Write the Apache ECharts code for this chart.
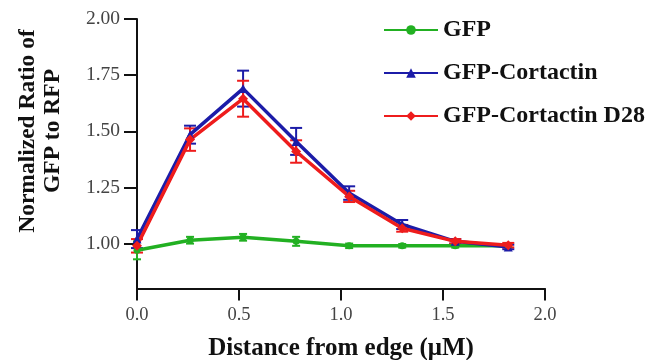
<!DOCTYPE html>
<html>
<head>
<meta charset="utf-8">
<script src="https://cdn.jsdelivr.net/npm/echarts@6/dist/echarts.min.js"></script>
<style>html,body{margin:0;padding:0;background:#fff}#c{width:657px;height:360px}</style>
</head>
<body>
<div id="c"></div>
<script>
var xs = [0, 0.26, 0.52, 0.78, 1.04, 1.30, 1.56, 1.82];
var gfp = [0.97, 1.015, 1.028, 1.01, 0.99, 0.99, 0.99, 0.99];
var gfpErr = [0.04, 0.015, 0.015, 0.02, 0.01, 0.008, 0.008, 0.008];
var cort = [1.02, 1.485, 1.69, 1.455, 1.225, 1.085, 1.01, 0.985];
var cortErr = [0.04, 0.04, 0.08, 0.06, 0.03, 0.02, 0.01, 0.01];
var d28 = [0.99, 1.463, 1.645, 1.41, 1.21, 1.068, 1.01, 0.993];
var d28Err = [0.03, 0.05, 0.08, 0.05, 0.025, 0.015, 0.01, 0.01];
var yTicks = [1.00, 1.25, 1.50, 1.75, 2.00];
var names = ['GFP', 'GFP-Cortactin', 'GFP-Cortactin D28'];
var colors = ['#22b022', '#1c1ca8', '#ee1c1c'];

function pts(v){ return xs.map(function(x,i){ return [x, v[i]]; }); }
function errData(v,e){ return xs.map(function(x,i){ return [x, v[i]-e[i], v[i]+e[i]]; }); }
function errSeries(v,e,color,cap){
  return {
    type:'custom', silent:true, z:3,
    data: errData(v,e),
    renderItem:function(params, api){
      var lo = api.coord([api.value(0), api.value(1)]);
      var hi = api.coord([api.value(0), api.value(2)]);
      var st = {stroke:color, lineWidth:2};
      return {type:'group', children:[
        {type:'line', shape:{x1:lo[0],y1:lo[1],x2:hi[0],y2:hi[1]}, style:st},
        {type:'line', shape:{x1:lo[0]-cap,y1:lo[1],x2:lo[0]+cap,y2:lo[1]}, style:st},
        {type:'line', shape:{x1:hi[0]-cap,y1:hi[1],x2:hi[0]+cap,y2:hi[1]}, style:st}
      ]};
    }
  };
}
function lineSeries(name, v, color, symbol, size){
  return {
    name:name, type:'line', data:pts(v), symbol:symbol, symbolSize:size,
    lineStyle:{color:color, width:3.5}, itemStyle:{color:color}, z:4
  };
}
var font = 'Liberation Serif';
var chart = echarts.init(document.getElementById('c'));
chart.setOption({
  animation:false,
  grid:{left:137, right:112, top:19, bottom:71.5, containLabel:false, outerBoundsMode:'none'},
  legend:{
    orient:'vertical', left:383, top:18, padding:0, itemWidth:54, itemHeight:12, itemGap:19,
    data:names,
    textStyle:{fontFamily:font, fontWeight:'bold', fontSize:24, lineHeight:24, color:'#111'}
  },
  xAxis:{
    type:'value', min:0, max:2, interval:0.5,
    name:'Distance from edge (\u03bcM)', nameLocation:'middle', nameGap:48,
    nameTextStyle:{fontFamily:font, fontWeight:'bold', fontSize:25, color:'#111'},
    axisLine:{lineStyle:{color:'#111', width:2}},
    axisTick:{length:12, lineStyle:{color:'#111', width:2}},
    axisLabel:{fontFamily:font, fontSize:18.5, color:'#444', margin:17, formatter:function(v){return v.toFixed(1);}},
    splitLine:{show:false}
  },
  yAxis:{
    type:'value', min:0.8, max:2.0,
    axisLine:{show:true, lineStyle:{color:'#111', width:2}},
    axisTick:{show:true, length:13, lineStyle:{color:'#111', width:2}, customValues:yTicks},
    axisLabel:{fontFamily:font, fontSize:19.5, color:'#444', margin:17, customValues:yTicks, formatter:function(v){return v.toFixed(2);}},
    splitLine:{show:false}
  },
  graphic:[{
    type:'text', x:40, y:131, rotation:Math.PI/2,
    style:{text:'Normalized Ratio of\nGFP to RFP', fontFamily:font, fontWeight:'bold', fontSize:23.5, fill:'#111', align:'center', verticalAlign:'middle', lineHeight:25}
  }],
  series:[
    errSeries(gfp, gfpErr, colors[0], 4),
    errSeries(cort, cortErr, colors[1], 6),
    errSeries(d28, d28Err, colors[2], 6),
    lineSeries(names[0], gfp, colors[0], 'circle', 7),
    lineSeries(names[1], cort, colors[1], 'triangle', 9),
    lineSeries(names[2], d28, colors[2], 'diamond', 10)
  ]
});
</script>
</body>
</html>
